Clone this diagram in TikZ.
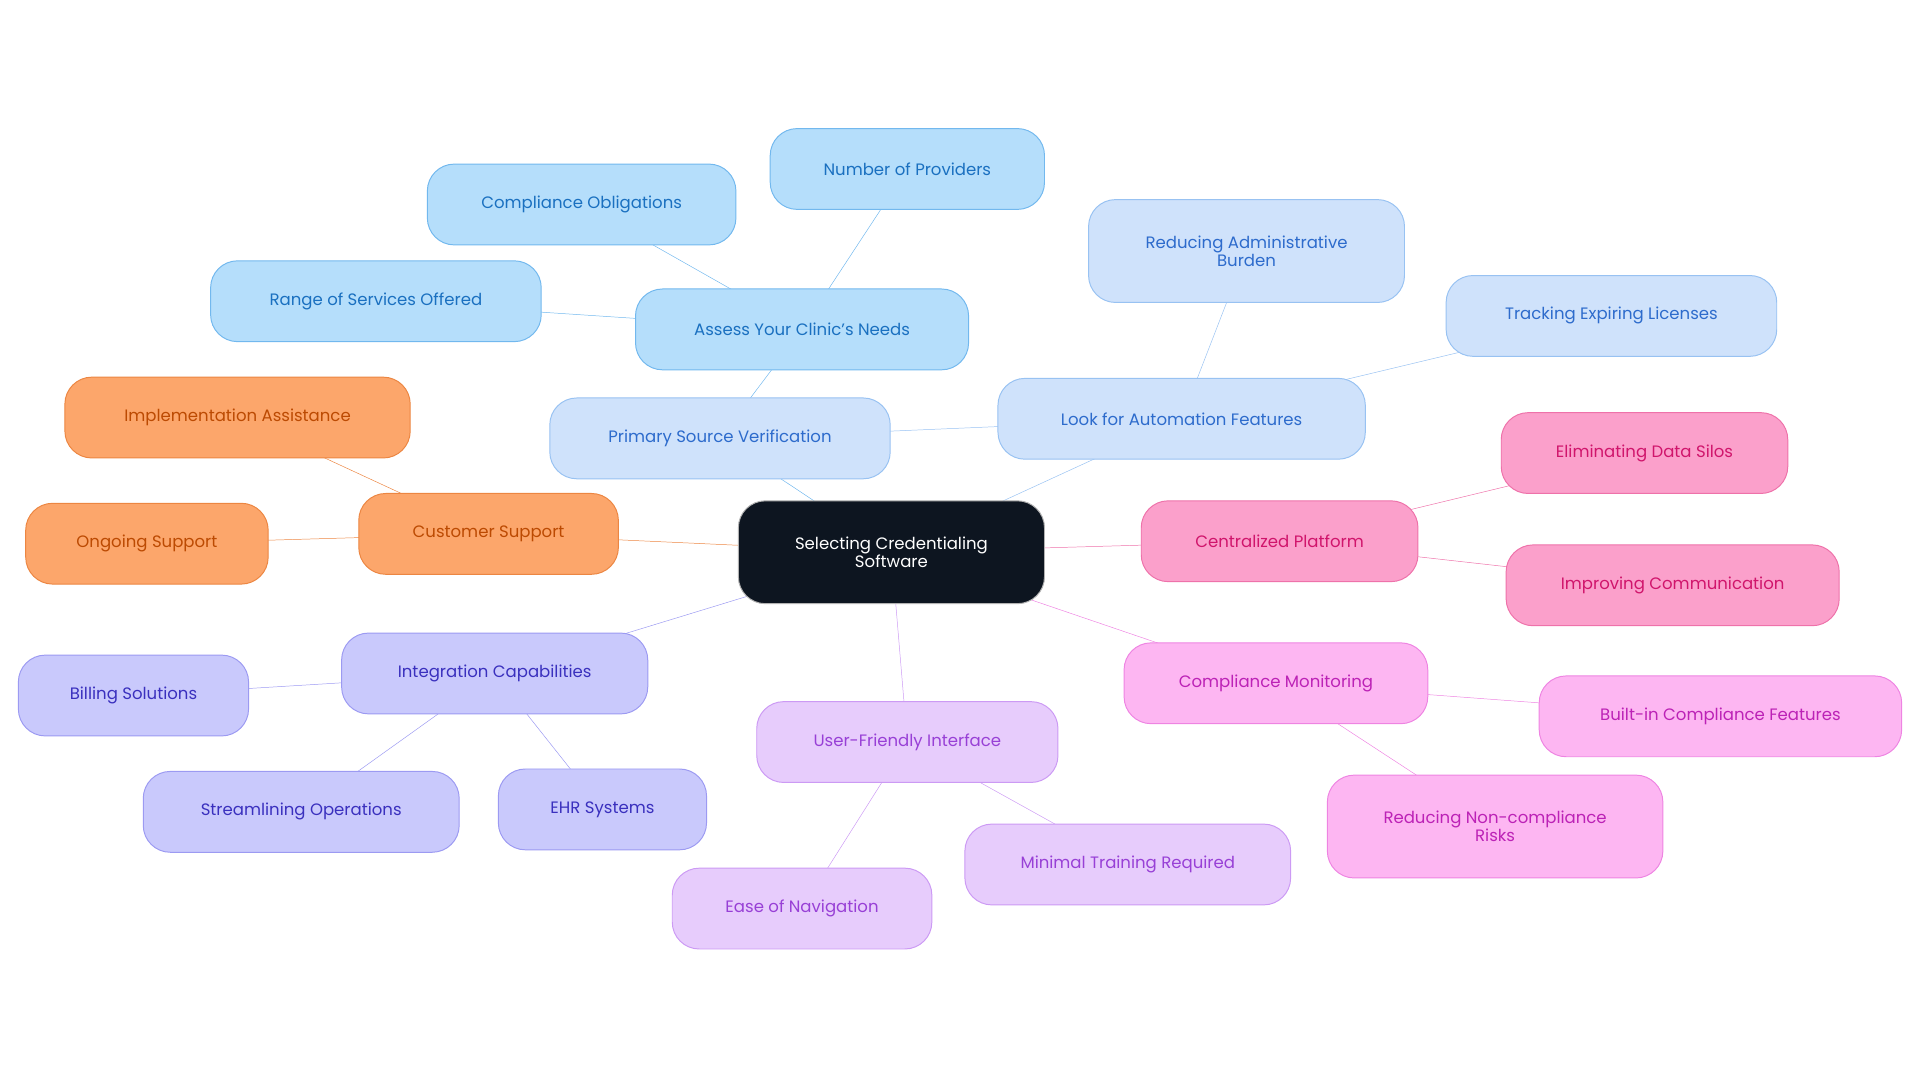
\documentclass[tikz,border=0pt]{standalone}
\usepackage{fontspec}
\setmainfont{Poppins}
\usetikzlibrary{positioning,backgrounds}
\definecolor{rootfill}{HTML}{0D1520}
\definecolor{bluefill}{HTML}{B5DEFB}\definecolor{bluetext}{HTML}{1A70C0}\definecolor{blueline}{HTML}{72B8EE}
\definecolor{skyfill}{HTML}{CFE2FB}\definecolor{skytext}{HTML}{2D6BCC}\definecolor{skyline}{HTML}{98C2F2}
\definecolor{pinkfill}{HTML}{FBA0CB}\definecolor{pinktext}{HTML}{D0156C}\definecolor{pinkline}{HTML}{EE72AA}
\definecolor{magfill}{HTML}{FDB6F2}\definecolor{magtext}{HTML}{BC22B6}\definecolor{magline}{HTML}{EE84E2}
\definecolor{purpfill}{HTML}{E7CCFC}\definecolor{purptext}{HTML}{9840D6}\definecolor{purpline}{HTML}{CC9AF4}
\definecolor{indfill}{HTML}{C9C9FC}\definecolor{indtext}{HTML}{3A30BE}\definecolor{indline}{HTML}{9C9AF2}
\definecolor{orfill}{HTML}{FCA66B}\definecolor{ortext}{HTML}{BC4A02}\definecolor{orline}{HTML}{EC8642}

\begin{document}
\begin{tikzpicture}[
x=1pt,y=-1pt,
box/.style={
  rounded corners=22pt,
  minimum height=66pt,
  align=center,
  font=\fontsize{13.5}{15}\selectfont,
  line width=0.8pt
  },
root/.style={box, fill=rootfill, draw=gray!60, text=white, minimum width=250pt, minimum height=84pt},
blue/.style={box, fill=bluefill, draw=blueline, text=bluetext},
sky/.style={box, fill=skyfill, draw=skyline, text=skytext},
pink/.style={box, fill=pinkfill, draw=pinkline, text=pinktext},
mag/.style={box, fill=magfill, draw=magline, text=magtext},
purp/.style={box, fill=purpfill, draw=purpline, text=purptext},
ind/.style={box, fill=indfill, draw=indline, text=indtext},
orng/.style={box, fill=orfill, draw=orline, text=ortext},
link/.style={line width=1.8pt}
]
\useasboundingbox (0,0) rectangle (1568,884);
\node[root] (sel) at (728,451) {Selecting Credentialing\\Software};

\node[blue, minimum width=272pt] (needs) at (655,269) {Assess Your Clinic's Needs};
\node[blue, minimum width=224pt] (prov) at (741,138) {Number of Providers};
\node[blue, minimum width=252pt] (oblig) at (475,167) {Compliance Obligations};
\node[blue, minimum width=270pt] (range) at (307,246) {Range of Services Offered};

\node[sky, minimum width=278pt] (psv) at (588,358) {Primary Source Verification};
\node[sky, minimum width=300pt] (auto) at (965,342) {Look for Automation Features};
\node[sky, minimum width=258pt, minimum height=84pt] (admin) at (1018,205) {Reducing Administrative\\Burden};
\node[sky, minimum width=270pt] (track) at (1316,258) {Tracking Expiring Licenses};

\node[pink, minimum width=226pt] (central) at (1045,442) {Centralized Platform};
\node[pink, minimum width=234pt] (silos) at (1343,370) {Eliminating Data Silos};
\node[pink, minimum width=272pt] (comm) at (1366,478) {Improving Communication};

\node[mag, minimum width=248pt] (monit) at (1042,558) {Compliance Monitoring};
\node[mag, minimum width=296pt] (builtin) at (1405,585) {Built-in Compliance Features};
\node[mag, minimum width=274pt, minimum height=84pt] (risks) at (1221,675) {Reducing Non-compliance\\Risks};

\node[purp, minimum width=246pt] (ui) at (741,606) {User-Friendly Interface};
\node[purp, minimum width=212pt] (nav) at (655,742) {Ease of Navigation};
\node[purp, minimum width=266pt] (train) at (921,706) {Minimal Training Required};

\node[ind, minimum width=250pt] (integ) at (404,550) {Integration Capabilities};
\node[ind, minimum width=188pt] (bill) at (109,568) {Billing Solutions};
\node[ind, minimum width=258pt] (stream) at (246,663) {Streamlining Operations};
\node[ind, minimum width=170pt] (ehr) at (492,661) {EHR Systems};

\node[orng, minimum width=212pt] (supp) at (399,436) {Customer Support};
\node[orng, minimum width=282pt] (impl) at (194,341) {Implementation Assistance};
\node[orng, minimum width=198pt] (ongo) at (120,444) {Ongoing Support};

% connectors behind the boxes
\begin{scope}[on background layer, link]
\foreach \a/\b in {sel/psv,psv/needs,needs/prov,needs/oblig,needs/range}
  \draw[blueline] (\a.center) -- (\b.center);
\foreach \a/\b in {psv/auto,sel/auto,auto/admin,auto/track}
  \draw[skyline] (\a.center) -- (\b.center);
\foreach \a/\b in {sel/central,central/silos,central/comm}
  \draw[pinkline] (\a.center) -- (\b.center);
\foreach \a/\b in {sel/monit,monit/builtin,monit/risks}
  \draw[magline] (\a.center) -- (\b.center);
\foreach \a/\b in {sel/ui,ui/nav,ui/train}
  \draw[purpline] (\a.center) -- (\b.center);
\foreach \a/\b in {sel/integ,integ/bill,integ/stream,integ/ehr}
  \draw[indline] (\a.center) -- (\b.center);
\foreach \a/\b in {sel/supp,supp/impl,supp/ongo}
  \draw[orline] (\a.center) -- (\b.center);
\end{scope}
\end{tikzpicture}
\end{document}
